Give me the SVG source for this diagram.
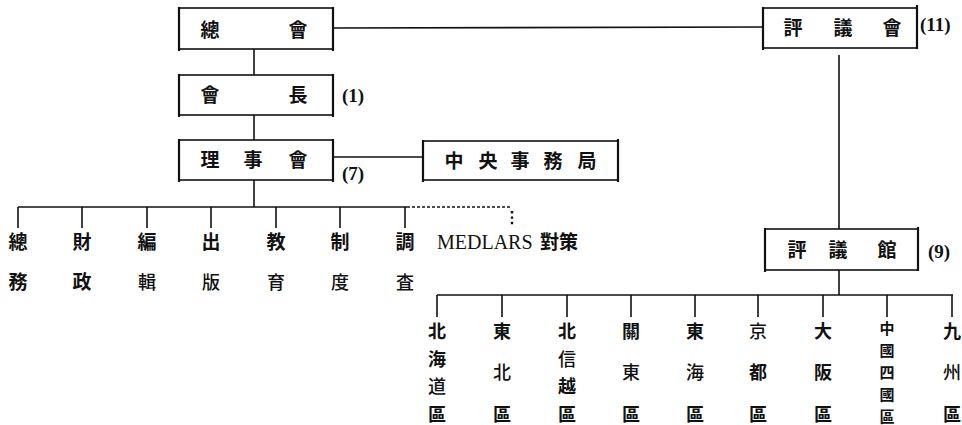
<svg xmlns="http://www.w3.org/2000/svg" width="962" height="425" viewBox="0 0 962 425">
<style>
.bg{fill:#fff}
.box{fill:none;stroke:#111;stroke-width:1.6}
.bar{stroke:#111;stroke-width:2.2}
.ln{stroke:#111;stroke-width:1.6;fill:none}
.dash{stroke:#111;stroke-width:1.3;stroke-dasharray:3 2;fill:none}
.dot{stroke:#111;stroke-width:2.4;stroke-dasharray:2.4 3;fill:none}
.cj{font-family:"Noto Sans CJK JP","Noto Sans CJK TC",sans-serif;font-size:19px;font-weight:bold;fill:#111;text-anchor:middle}
.cr{font-family:"Noto Sans CJK JP","Noto Sans CJK TC",sans-serif;font-size:18px;font-weight:500;fill:#111;text-anchor:middle}
.cb{font-family:"Noto Sans CJK JP","Noto Sans CJK TC",sans-serif;font-size:18px;font-weight:bold;fill:#111;text-anchor:middle}
.cs{font-family:"Noto Sans CJK JP","Noto Sans CJK TC",sans-serif;font-size:15px;font-weight:bold;fill:#111;text-anchor:middle}
.num{font-family:"Liberation Serif",serif;font-size:19px;font-weight:bold;fill:#111}
.lat{font-family:"Liberation Serif",serif;font-size:20px;fill:#111}
</style>
<rect class="bg" x="0" y="0" width="962" height="425"/>

<g id="connectors">
  <line class="ln" x1="333" y1="28" x2="763" y2="27"/>
  <line class="ln" x1="254" y1="49" x2="254" y2="75"/>
  <line class="ln" x1="254" y1="115" x2="254" y2="140"/>
  <line class="ln" x1="333" y1="157" x2="423" y2="157"/>
  <line class="ln" x1="254" y1="180" x2="254" y2="207"/>
  <line class="ln" x1="18" y1="207" x2="407" y2="207"/>
  <line class="dash" x1="407" y1="207" x2="512" y2="207"/>
  <line class="dot" x1="512" y1="211" x2="512" y2="226"/>
  <line class="ln" x1="18" y1="207" x2="18" y2="228"/>
  <line class="ln" x1="82" y1="207" x2="82" y2="228"/>
  <line class="ln" x1="147" y1="207" x2="147" y2="228"/>
  <line class="ln" x1="211" y1="207" x2="211" y2="228"/>
  <line class="ln" x1="276" y1="207" x2="276" y2="228"/>
  <line class="ln" x1="340" y1="207" x2="340" y2="228"/>
  <line class="ln" x1="405" y1="207" x2="405" y2="228"/>
  <line class="ln" x1="839" y1="55" x2="839" y2="229"/>
  <line class="ln" x1="839" y1="270" x2="839" y2="295"/>
  <line class="ln" x1="437" y1="295" x2="953" y2="295"/>
  <line class="ln" x1="437" y1="295" x2="437" y2="317"/>
  <line class="ln" x1="502" y1="295" x2="502" y2="317"/>
  <line class="ln" x1="567" y1="295" x2="567" y2="317"/>
  <line class="ln" x1="631" y1="295" x2="631" y2="317"/>
  <line class="ln" x1="695" y1="295" x2="695" y2="317"/>
  <line class="ln" x1="758" y1="295" x2="758" y2="317"/>
  <line class="ln" x1="823" y1="295" x2="823" y2="317"/>
  <line class="ln" x1="887" y1="295" x2="887" y2="317"/>
  <line class="ln" x1="952" y1="295" x2="952" y2="317"/>
</g>

<g id="soukai">
  <rect class="box" x="179" y="8" width="154" height="41"/>
  <line class="bar" x1="179" y1="7" x2="179" y2="51"/><line class="bar" x1="333" y1="7" x2="333" y2="51"/>
  <text class="cj" x="210" y="37">總</text><text class="cj" x="298" y="37">會</text>
</g>
<g id="kaicho">
  <rect class="box" x="179" y="75" width="154" height="40"/>
  <line class="bar" x1="179" y1="74" x2="179" y2="117"/><line class="bar" x1="333" y1="74" x2="333" y2="117"/>
  <text class="cj" x="210" y="102">會</text><text class="cj" x="298" y="102">長</text>
  <text class="num" x="342" y="102">(1)</text>
</g>
<g id="rijikai">
  <rect class="box" x="179" y="140" width="154" height="40"/>
  <line class="bar" x1="179" y1="139" x2="179" y2="182"/><line class="bar" x1="333" y1="139" x2="333" y2="182"/>
  <text class="cj" x="210" y="167">理</text><text class="cj" x="253" y="167">事</text><text class="cj" x="298" y="167">會</text>
  <text class="num" x="342" y="180">(7)</text>
</g>
<g id="chuo-jimukyoku">
  <rect class="box" x="423" y="141" width="195" height="39"/>
  <line class="bar" x1="423" y1="140" x2="423" y2="182"/><line class="bar" x1="618" y1="139" x2="618" y2="182"/>
  <text class="cj" x="454" y="168">中</text><text class="cj" x="488" y="168">央</text><text class="cj" x="520" y="168">事</text><text class="cj" x="553" y="168">務</text><text class="cj" x="587" y="168">局</text>
</g>
<g id="hyogikai">
  <rect class="box" x="763" y="8" width="154" height="40"/>
  <line class="bar" x1="763" y1="7" x2="763" y2="50"/><line class="bar" x1="917" y1="5" x2="917" y2="49"/>
  <text class="cj" x="793" y="35">評</text><text class="cj" x="843" y="35">議</text><text class="cj" x="892" y="35">會</text>
  <text class="num" x="920" y="31">(11)</text>
</g>
<g id="hyogikan">
  <rect class="box" x="765" y="229" width="153" height="41"/>
  <line class="bar" x1="765" y1="228" x2="765" y2="272"/><line class="bar" x1="918" y1="227" x2="918" y2="271"/>
  <text class="cj" x="797" y="257">評</text><text class="cj" x="838" y="257">議</text><text class="cj" x="887" y="257">館</text>
  <text class="num" x="928" y="258">(9)</text>
</g>

<g id="dept-somu"><text class="cj" x="18" y="249">總</text><text class="cj" x="18" y="289">務</text></g>
<g id="dept-zaisei"><text class="cj" x="82" y="249">財</text><text class="cj" x="82" y="289">政</text></g>
<g id="dept-henshu"><text class="cj" x="147" y="249">編</text><text class="cr" x="147" y="289">輯</text></g>
<g id="dept-shuppan"><text class="cj" x="211" y="249">出</text><text class="cr" x="211" y="289">版</text></g>
<g id="dept-kyoiku"><text class="cj" x="276" y="249">教</text><text class="cr" x="276" y="289">育</text></g>
<g id="dept-seido"><text class="cj" x="340" y="249">制</text><text class="cr" x="340" y="289">度</text></g>
<g id="dept-chosa"><text class="cj" x="405" y="249">調</text><text class="cr" x="405" y="289">査</text></g>
<g id="dept-medlars"><text class="lat" x="437" y="249">MEDLARS</text><text class="cj" x="540" y="249" style="text-anchor:start">對策</text></g>

<g id="r-hokkaido"><text class="cb" x="437" y="338">北</text><text class="cb" x="437" y="366">海</text><text class="cr" x="437" y="393">道</text><text class="cb" x="437" y="421">區</text></g>
<g id="r-tohoku"><text class="cb" x="502" y="338">東</text><text class="cr" x="502" y="379">北</text><text class="cb" x="502" y="421">區</text></g>
<g id="r-hokushinetsu"><text class="cb" x="567" y="338">北</text><text class="cr" x="567" y="366">信</text><text class="cb" x="567" y="393">越</text><text class="cb" x="567" y="421">區</text></g>
<g id="r-kanto"><text class="cb" x="631" y="338">關</text><text class="cr" x="631" y="379">東</text><text class="cb" x="631" y="421">區</text></g>
<g id="r-tokai"><text class="cb" x="695" y="338">東</text><text class="cr" x="695" y="379">海</text><text class="cb" x="695" y="421">區</text></g>
<g id="r-kyoto"><text class="cr" x="758" y="338">京</text><text class="cb" x="758" y="379">都</text><text class="cb" x="758" y="421">區</text></g>
<g id="r-osaka"><text class="cb" x="823" y="338">大</text><text class="cb" x="823" y="379">阪</text><text class="cb" x="823" y="421">區</text></g>
<g id="r-chugoku-shikoku"><text class="cs" x="887" y="334">中</text><text class="cs" x="887" y="356">國</text><text class="cs" x="887" y="378">四</text><text class="cs" x="887" y="400">國</text><text class="cs" x="887" y="422">區</text></g>
<g id="r-kyushu"><text class="cb" x="952" y="338">九</text><text class="cr" x="952" y="379">州</text><text class="cb" x="952" y="421">區</text></g>
</svg>
